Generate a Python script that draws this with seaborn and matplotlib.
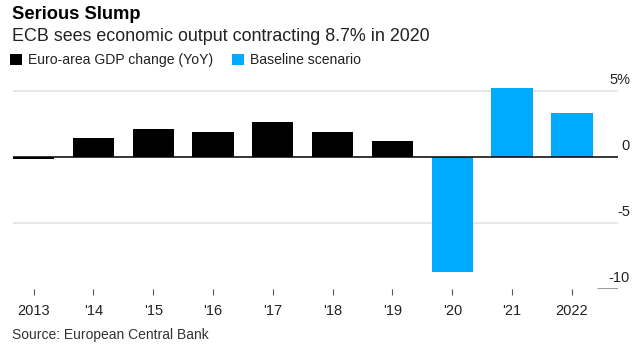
import matplotlib
matplotlib.use("Agg")
import matplotlib.pyplot as plt
from matplotlib.patches import Patch
import seaborn as sns
import pandas as pd

years = ["2013", "2014", "2015", "2016", "2017", "2018", "2019", "2020", "2021", "2022"]
tick_labels = ["2013", "'14", "'15", "'16", "'17", "'18", "'19", "'20", "'21", "2022"]
gdp_change = [-0.2, 1.4, 2.1, 1.9, 2.6, 1.9, 1.2, -8.7, 5.2, 3.3]
series = ["Euro-area GDP change (YoY)"] * 7 + ["Baseline scenario"] * 3
y_ticks = [5, 0, -5, -10]
y_tick_labels = ["5%", "0", "-5", "-10"]

BLACK = "#000000"
BLUE = "#00aaff"
palette = {"Euro-area GDP change (YoY)": BLACK, "Baseline scenario": BLUE}

df = pd.DataFrame({"year": years, "value": gdp_change, "series": series})

sns.set_theme(style="white")
plt.rcParams["font.family"] = ["Liberation Sans", "DejaVu Sans"]

fig = plt.figure(figsize=(6.42, 3.53), dpi=100)
ax = fig.add_axes([0.0202, 0.182, 0.9424, 0.61])

sns.barplot(data=df, x="year", y="value", hue="series", palette=palette,
            dodge=False, width=0.69, saturation=1, ax=ax, legend=False,
            edgecolor="none", zorder=3)

ax.set_xlim(-0.345, 9.77)
ax.set_ylim(-10, 6.3)
for s in ax.spines.values():
    s.set_visible(False)

ax.axhline(0, color="#000000", lw=1.1, zorder=4)
for t in [5, -5]:
    ax.axhline(t, color="#e3e3e3", lw=1.2, zorder=1)
ax.axhline(-10, xmin=0.967, xmax=1.0, color="#888888", lw=1.2, zorder=1)

ax.set_yticks([])
ax.set_ylabel("")
ax.set_xlabel("")
for t, lab in zip(y_ticks, y_tick_labels):
    ax.text(1.02, t + 0.3, lab, transform=ax.get_yaxis_transform(),
            ha="right", va="bottom", fontsize=10.5, color="#222222")

ax.set_xticks(range(len(years)))
ax.set_xticklabels(tick_labels, fontsize=10.5, color="#222222")
ax.tick_params(axis="x", bottom=True, length=4, width=0.8, color="#555555",
               pad=7, direction="out")

fig.text(0.019, 0.945, "Serious Slump", fontsize=13.2, fontweight="bold",
         ha="left", va="baseline", color="#000000")
fig.text(0.019, 0.885, "ECB sees economic output contracting 8.7% in 2020",
         fontsize=12.9, ha="left", va="baseline", color="#222222")

handles = [Patch(facecolor=BLACK, edgecolor="none", label="Euro-area GDP change (YoY)"),
           Patch(facecolor=BLUE, edgecolor="none", label="Baseline scenario")]
fig.legend(handles=handles, loc="center left", bbox_to_anchor=(-0.004, 0.83),
           ncol=2, frameon=False, fontsize=10.1, handlelength=0.85,
           handleheight=0.85, handletextpad=0.45, columnspacing=1.3,
           labelcolor="#222222")

fig.text(0.019, 0.04, "Source: European Central Bank", fontsize=10,
         ha="left", va="baseline", color="#333333")

fig.savefig("out.png", dpi=100)
